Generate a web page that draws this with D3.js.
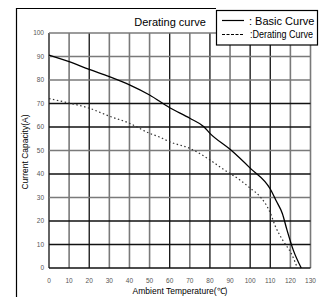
<!DOCTYPE html>
<html>
<head>
<meta charset="utf-8">
<script src="https://cdn.jsdelivr.net/npm/d3@7"></script>
<style>
  body { margin: 0; background: #fff; }
  svg { display: block; font-family: "Liberation Sans", Arial, sans-serif; }
</style>
</head>
<body>
<div id="chart"></div>
<script>
// temperature (°C), current (A)
const basicCurve = [
  [0, 90.6], [10, 87.8], [20, 84.5], [30, 81.4], [40, 77.9], [50, 73.6],
  [60, 68.2], [70, 63.7], [77, 60.1], [80, 57.3], [90, 50.5], [100, 42.5],
  [110, 33.6], [113, 28.5], [116, 23.2], [118.3, 16.2], [121.4, 7.7], [125.4, 0]
]
const deratingCurve = [
  [0, 72.1], [10, 70.2], [20, 68], [30, 64.6], [40, 61.6], [50, 57.3],
  [55, 55.7], [60, 53.7], [70, 50.9], [80, 46], [86, 42.4], [95, 37.4],
  [100, 34], [105, 30.3], [110, 23.5], [112.5, 17.8], [116.5, 11.4],
  [120.5, 6.1], [123.5, 0]
]
const xTicks = d3.range(0, 131, 10)
const yTicks = d3.range(0, 101, 10)
const darkX = new Set([0, 20, 60, 80, 100, 110])
const darkY = new Set([0, 10, 20, 40, 60, 70])

const width = 321, height = 297

const svg = d3.select('#chart').append('svg')
  .attr('width', width)
  .attr('height', height)

const x = d3.scaleLinear().domain([0, 130]).range([49, 310.5])
const y = d3.scaleLinear().domain([0, 100]).range([268, 33])

// outer frame (left + top)
svg.append('path')
  .attr('d', `M16.5,${height} V8.5 H216`)
  .attr('fill', 'none')
  .attr('stroke', '#000')
  .attr('stroke-width', 1.2)

svg.append('text')
  .attr('x', 170)
  .attr('y', 26)
  .attr('text-anchor', 'middle')
  .style('font-size', '11px')
  .text('Derating curve')

const grid = svg.append('g')

grid.selectAll('.gx')
  .data(xTicks)
  .join('line')
  .attr('x1', d => x(d)).attr('x2', d => x(d))
  .attr('y1', y(0)).attr('y2', y(100))
  .attr('stroke', d => darkX.has(d) ? '#111' : '#7a7a7a')
  .attr('stroke-width', d => darkX.has(d) ? 1.3 : 1.6)

grid.selectAll('.gy')
  .data(yTicks)
  .join('line')
  .attr('y1', d => y(d)).attr('y2', d => y(d))
  .attr('x1', x(0)).attr('x2', x(130))
  .attr('stroke', d => darkY.has(d) ? '#111' : '#7a7a7a')
  .attr('stroke-width', d => darkY.has(d) ? 1.3 : 1.6)

// tick labels
svg.append('g')
  .selectAll('text')
  .data(yTicks)
  .join('text')
  .attr('x', 44)
  .attr('y', d => y(d))
  .attr('dy', '0.35em')
  .attr('text-anchor', 'end')
  .attr('fill', '#555')
  .style('font-size', '6.5px')
  .text(d => d)

svg.append('g')
  .selectAll('text')
  .data(xTicks)
  .join('text')
  .attr('x', d => x(d))
  .attr('y', 283)
  .attr('text-anchor', 'middle')
  .attr('fill', '#555')
  .style('font-size', '6.5px')
  .text(d => d)

svg.append('text')
  .attr('x', 180)
  .attr('y', 294)
  .attr('text-anchor', 'middle')
  .style('font-size', '8.5px')
  .text('Ambient Temperature(℃)')

svg.append('text')
  .attr('transform', 'translate(28,152) rotate(-90)')
  .attr('text-anchor', 'middle')
  .style('font-size', '8.5px')
  .text('Current Capacity(A)')

// curves
const line = d3.line()
  .x(d => x(d[0]))
  .y(d => y(d[1]))
  .curve(d3.curveMonotoneX)

svg.append('path')
  .datum(deratingCurve)
  .attr('d', line)
  .attr('fill', 'none')
  .attr('stroke', '#333')
  .attr('stroke-width', 1.2)
  .attr('stroke-dasharray', '1.5,2.5')

svg.append('path')
  .datum(basicCurve)
  .attr('d', line)
  .attr('fill', 'none')
  .attr('stroke', '#000')
  .attr('stroke-width', 1.3)

// legend
const legend = svg.append('g')
legend.append('rect')
  .attr('x', 216.5).attr('y', 10.5)
  .attr('width', 101).attr('height', 34.5)
  .attr('fill', '#fff')
  .attr('stroke', '#000')
  .attr('stroke-width', 1.2)

legend.append('line')
  .attr('x1', 222).attr('x2', 244)
  .attr('y1', 20.5).attr('y2', 20.5)
  .attr('stroke', '#000')
  .attr('stroke-width', 1.2)

legend.append('line')
  .attr('x1', 222).attr('x2', 244)
  .attr('y1', 34.5).attr('y2', 34.5)
  .attr('stroke', '#000')
  .attr('stroke-width', 1.2)
  .attr('stroke-dasharray', '3,1.5')

legend.append('text')
  .attr('x', 249).attr('y', 25)
  .style('font-size', '11px')
  .text(': Basic Curve')

legend.append('text')
  .attr('x', 250).attr('y', 38)
  .attr('textLength', 63)
  .attr('lengthAdjust', 'spacingAndGlyphs')
  .style('font-size', '10px')
  .text(':Derating Curve')
</script>
</body>
</html>
